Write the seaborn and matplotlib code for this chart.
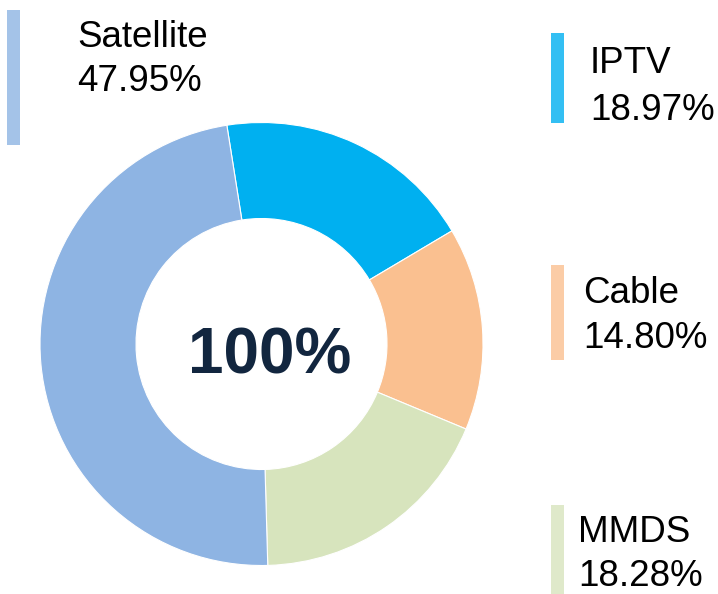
"""Donut chart of TV platform shares with side labels."""

import matplotlib.pyplot as plt
import seaborn as sns
from matplotlib.patches import Rectangle

platforms = ["IPTV", "Cable", "MMDS", "Satellite"]
shares = [18.97, 14.80, 18.28, 47.95]
total_label = "100%"

SLICE_COLORS = ["#00B0F0", "#FAC090", "#D7E4BD", "#8EB4E3"]
NAVY = "#12263F"

# label anchor (x, first baseline, line gap) in pixels from the top-left corner
LABEL_POS = {
    "Satellite": (77, 47, 44),
    "IPTV": (590, 73, 47),
    "Cable": (583, 303, 45),
    "MMDS": (578, 542, 44),
}
# marker bar (x0, x1, y0, y1) in pixels from the top-left corner
BAR_POS = {
    "Satellite": (7, 20, 10, 145),
    "IPTV": (551, 564, 33, 123),
    "Cable": (551, 564, 265, 360),
    "MMDS": (551, 564, 505, 596),
}

W, H = 718, 594


def main():
    sns.set_theme(style="white")
    plt.rcParams["font.family"] = ["Liberation Sans", "DejaVu Sans"]

    fig = plt.figure(figsize=(W / 100, H / 100), dpi=100)
    ax = fig.add_axes([0, 0, 1, 1])

    cx, cy, radius = 261.5, H - 344, 221.5
    ax.pie(
        shares,
        colors=SLICE_COLORS,
        startangle=99,
        counterclock=False,
        center=(cx, cy),
        radius=radius,
        wedgeprops={"width": 96, "edgecolor": "white", "linewidth": 0.8},
        frame=True,
    )
    ax.set_xlim(0, W)
    ax.set_ylim(0, H)
    ax.set_aspect("equal")
    ax.axis("off")

    ax.text(cx + 8, H - 373, total_label, ha="center", va="baseline",
            fontsize=46, fontweight="bold", color=NAVY)

    for name, value, color in zip(platforms, shares, SLICE_COLORS):
        x, base, gap = LABEL_POS[name]
        ax.text(x, H - base, name, fontsize=26.5, color="black", va="baseline")
        ax.text(x, H - base - gap, f"{value:.2f}%", fontsize=26.5,
                color="black", va="baseline")
        x0, x1, y0, y1 = BAR_POS[name]
        ax.add_patch(Rectangle((x0, H - y1), x1 - x0, y1 - y0,
                               color=color, alpha=0.8, linewidth=0))

    fig.savefig("out.png", dpi=100, facecolor="white")


if __name__ == "__main__":
    main()
